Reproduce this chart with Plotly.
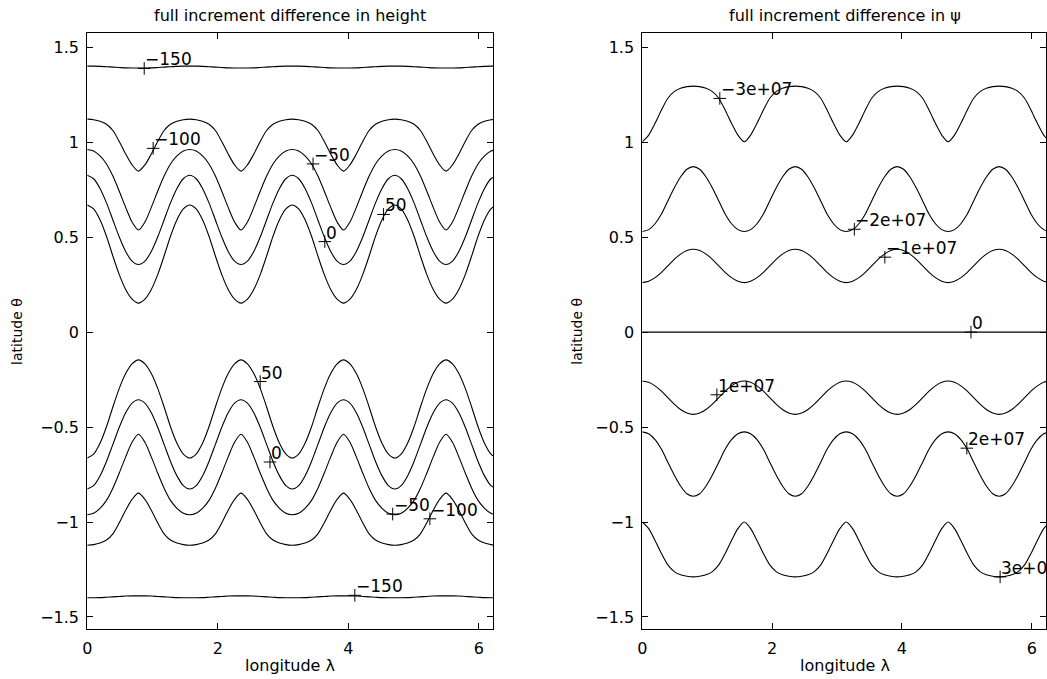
import math
import plotly.graph_objects as go

# ---------------- data ----------------
LON_RANGE = [0, 6.22]
LAT_RANGE = [-1.565, 1.574]
X_TICKS = [0, 2, 4, 6]
Y_TICKS = [-1.5, -1, -0.5, 0, 0.5, 1, 1.5]
Y_TICK_TEXT = ["−1.5", "−1", "−0.5", "0", "0.5", "1", "1.5"]

# longitude offsets (rad) from each multiple of pi/2 to the following pi/4 point
PHASE = [0.0, 0.098, 0.196, 0.295, 0.393, 0.491, 0.589, 0.687, 0.785]

# ---- left panel: height contours (latitude at PHASE offsets) ----
h_n_m150 = [1.401, 1.401, 1.400, 1.398, 1.396, 1.394, 1.392, 1.391, 1.391]
h_n_m100 = [1.122, 1.119, 1.111, 1.095, 1.062, 1.004, 0.938, 0.881, 0.848]
h_n_m50 = [0.962, 0.954, 0.928, 0.886, 0.822, 0.742, 0.657, 0.580, 0.538]
h_n_0 = [0.826, 0.808, 0.757, 0.681, 0.591, 0.501, 0.425, 0.374, 0.356]
h_n_50 = [0.670, 0.649, 0.592, 0.505, 0.401, 0.303, 0.225, 0.174, 0.153]
h_s_50 = [-0.663, -0.642, -0.585, -0.498, -0.394, -0.296, -0.218, -0.167, -0.146]
h_s_0 = [-0.826, -0.808, -0.757, -0.681, -0.591, -0.501, -0.425, -0.374, -0.356]
h_s_m50 = [-0.962, -0.954, -0.928, -0.886, -0.822, -0.742, -0.657, -0.580, -0.538]
h_s_m100 = [-1.122, -1.119, -1.111, -1.095, -1.062, -1.004, -0.938, -0.881, -0.848]
h_s_m150 = [-1.399, -1.399, -1.398, -1.396, -1.394, -1.392, -1.390, -1.389, -1.389]
h_lines = [h_n_m150, h_n_m100, h_n_m50, h_n_0, h_n_50,
           h_s_50, h_s_0, h_s_m50, h_s_m100, h_s_m150]

h_label_lon = [0.873, 1.01, 3.46, 3.64, 4.54, 2.65, 2.80, 4.68, 5.25, 4.10]
h_label_lat = [1.389, 0.968, 0.886, 0.477, 0.62, -0.26, -0.684, -0.958, -0.983, -1.386]
h_label_text = ["−150", "−100", "−50", "0", "50", "50", "0", "−50", "−100", "−150"]

# ---- right panel: psi contours ----
p_m3e7 = [1.003, 1.038, 1.100, 1.170, 1.232, 1.267, 1.284, 1.293, 1.296]
p_m2e7 = [0.530, 0.540, 0.571, 0.622, 0.691, 0.759, 0.817, 0.858, 0.872]
p_m1e7 = [0.261, 0.268, 0.287, 0.315, 0.349, 0.383, 0.411, 0.430, 0.437]
p_0 = [0.0, 0.0, 0.0, 0.0, 0.0, 0.0, 0.0, 0.0, 0.0]
p_1e7 = [-0.257, -0.264, -0.283, -0.311, -0.345, -0.379, -0.407, -0.426, -0.433]
p_2e7 = [-0.525, -0.535, -0.566, -0.617, -0.685, -0.752, -0.810, -0.851, -0.864]
p_3e7 = [-1.000, -1.035, -1.097, -1.166, -1.226, -1.261, -1.278, -1.286, -1.289]
p_lines = [p_m3e7, p_m2e7, p_m1e7, p_0, p_1e7, p_2e7, p_3e7]

p_label_lon = [1.194, 3.267, 3.737, 5.064, 1.149, 5.0, 5.513]
p_label_lat = [1.231, 0.542, 0.395, 0.0, -0.33, -0.611, -1.289]
p_label_text = ["−3e+07", "−2e+07", "−1e+07", "0", "1e+07", "2e+07", "3e+07"]

TITLES = ["full increment difference in height", "full increment difference in ψ"]
XLABEL = "longitude λ"
YLABEL = "latitude θ"

# ---------------- figure ----------------
FONT = "DejaVu Sans"


def build_curve(profile):
    """Repeat the read half-wave over the four waves around the globe."""
    xs, ys = [], []
    for k in range(4):
        base = k * math.pi / 2
        for i in range(len(PHASE)):
            xs.append(base + PHASE[i])
            ys.append(profile[i])
        for i in range(len(PHASE) - 2, 0, -1):
            xs.append(base + math.pi / 2 - PHASE[i])
            ys.append(profile[i])
    xs.append(2 * math.pi)
    ys.append(profile[0])
    return xs, ys


fig = go.Figure()

for axis_id, lines in (("", h_lines), ("2", p_lines)):
    for prof in lines:
        xs, ys = build_curve(prof)
        fig.add_trace(go.Scatter(
            x=xs, y=ys, mode="lines",
            line=dict(color="black", width=1.1, shape="spline", smoothing=0.8),
            xaxis="x" + axis_id, yaxis="y" + axis_id,
            showlegend=False, hoverinfo="skip"))

for axis_id, lon, lat, txt in (("", h_label_lon, h_label_lat, h_label_text),
                               ("2", p_label_lon, p_label_lat, p_label_text)):
    fig.add_trace(go.Scatter(
        x=lon, y=lat, mode="markers",
        marker=dict(symbol="cross-thin", size=9,
                    line=dict(color="black", width=1)),
        xaxis="x" + axis_id, yaxis="y" + axis_id,
        showlegend=False, hoverinfo="skip"))
    for xv, yv, t in zip(lon, lat, txt):
        fig.add_annotation(
            x=xv, y=yv, xref="x" + axis_id, yref="y" + axis_id, text=t,
            showarrow=False, xanchor="left", yanchor="middle",
            xshift=-1, yshift=9,
            font=dict(family=FONT, size=17, color="black"))

W, H = 1047, 679
left_dom = [82.7 / W, 491.0 / W]
right_dom = [641.0 / W, 1.0]
y_dom = [1 - 629.3 / H, 1 - 33.3 / H]

axis_common = dict(
    showline=True, linecolor="black", linewidth=1, mirror="ticks",
    ticks="inside", ticklen=6, tickcolor="black", tickwidth=1,
    showgrid=False, zeroline=False,
    tickfont=dict(family=FONT, size=16, color="black"))

fig.update_layout(
    width=W, height=H,
    margin=dict(l=0, r=0, t=0, b=0),
    paper_bgcolor="white", plot_bgcolor="white",
    xaxis=dict(domain=left_dom, range=LON_RANGE, tickvals=X_TICKS,
               anchor="y", ticklabelstandoff=4, **axis_common),
    yaxis=dict(domain=y_dom, range=LAT_RANGE, tickvals=Y_TICKS,
               ticktext=Y_TICK_TEXT, anchor="x", ticklabelstandoff=4,
               **axis_common),
    xaxis2=dict(domain=right_dom, range=LON_RANGE, tickvals=X_TICKS,
                anchor="y2", ticklabelstandoff=4, **axis_common),
    yaxis2=dict(domain=y_dom, range=LAT_RANGE, tickvals=Y_TICKS,
                ticktext=Y_TICK_TEXT, anchor="x2", ticklabelstandoff=4,
                **axis_common),
)

centers = [(82.7 + 491.0) / 2 / W, (641.0 + 1048.0) / 2 / W]
ylab_x = [12.0 / W, 575.0 / W]
for i in range(2):
    fig.add_annotation(x=centers[i], y=1 - 15.0 / H, xref="paper", yref="paper",
                       text=TITLES[i], showarrow=False,
                       xanchor="center", yanchor="middle",
                       font=dict(family=FONT, size=16, color="black"))
    fig.add_annotation(x=centers[i], y=1 - 665.0 / H, xref="paper", yref="paper",
                       text=XLABEL, showarrow=False,
                       xanchor="center", yanchor="middle",
                       font=dict(family=FONT, size=16, color="black"))
    fig.add_annotation(x=ylab_x[i], y=1 - 331.0 / H, xref="paper", yref="paper",
                       text=YLABEL, showarrow=False, textangle=-90,
                       xanchor="center", yanchor="middle",
                       font=dict(family=FONT, size=14, color="black"))

fig.write_html("out.html")
